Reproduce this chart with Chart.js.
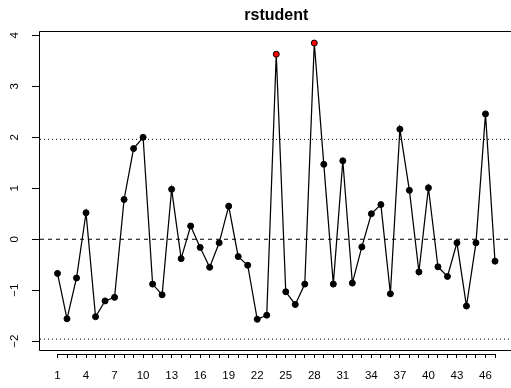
<!DOCTYPE html>
<html><head><meta charset="utf-8">
<style>html,body{margin:0;padding:0;overflow:hidden;background:#fff;}canvas{display:block;}</style>
<script src="https://cdn.jsdelivr.net/npm/chart.js@4.4.1/dist/chart.umd.min.js"></script>
</head><body>
<canvas id="c" width="520" height="388" style="width:520px;height:388px"></canvas>
<script>
// ---- data ----
const obs = [1,2,3,4,5,6,7,8,9,10,11,12,13,14,15,16,17,18,19,20,21,22,23,24,25,26,27,28,29,30,31,32,33,34,35,36,37,38,39,40,41,42,43,44,45,46,47];
const rstudent = [-0.67,-1.56,-0.76,0.52,-1.52,-1.21,-1.14,0.78,1.78,2.00,-0.88,-1.09,0.98,-0.38,0.26,-0.16,-0.55,-0.07,0.65,-0.34,-0.51,-1.57,-1.49,3.63,-1.03,-1.28,-0.88,3.85,1.47,-0.88,1.54,-0.86,-0.15,0.50,0.68,-1.07,2.16,0.96,-0.64,1.01,-0.54,-0.73,-0.07,-1.31,-0.07,2.46,-0.43];
const highlighted = [24, 28];
const zeroLine = 0;
const bandLines = [-1.96, 1.96];
const yTicks = [-2,-1,0,1,2,3,4];
const xTickLabels = [1,4,7,10,13,16,19,22,25,28,31,34,37,40,43,46];

// ---- axis limits (R style 4% extension) ----
const xLo = Math.min(...obs), xHi = Math.max(...obs);
const xMin = xLo - 0.04*(xHi-xLo), xMax = xHi + 0.04*(xHi-xLo);
const yLo = Math.min(bandLines[0], ...rstudent), yHi = Math.max(...rstudent);
const yMin = yLo - 0.04*(yHi-yLo), yMax = yHi + 0.04*(yHi-yLo);

Chart.defaults.font.family = "'Liberation Sans', Arial, Helvetica, sans-serif";
Chart.defaults.color = '#000';

const framePlugin = {
  id: 'frame',
  afterDraw(chart) {
    const {ctx, chartArea: a, scales} = chart;
    ctx.save();
    ctx.strokeStyle = '#000';
    ctx.lineWidth = 1;
    const l = Math.round(a.left) - 0.5, t = Math.round(a.top) + 0.5, b = Math.round(a.bottom) - 0.5, r = a.right + 3;
    ctx.beginPath();
    ctx.moveTo(r, t); ctx.lineTo(l, t); ctx.lineTo(l, b); ctx.lineTo(r, b);
    ctx.stroke();
    // R style x axis line spanning first..last tick
    const xs = scales.x;
    const ya = Math.round(a.bottom) + 3.5;
    ctx.beginPath();
    ctx.moveTo(xs.getPixelForValue(xLo), ya);
    ctx.lineTo(xs.getPixelForValue(xHi), ya);
    ctx.stroke();
    ctx.restore();
  }
};

const refLine = (y, dash) => ({
  type: 'line',
  data: [{x: xMin, y: y}, {x: xMax, y: y}],
  borderColor: '#000', borderWidth: 1, borderDash: dash,
  pointRadius: 0, fill: false, order: 2
});

new Chart(document.getElementById('c'), {
  type: 'line',
  data: {
    datasets: [
      {
        data: obs.map((x, i) => ({x: x, y: rstudent[i]})),
        borderColor: '#000', borderWidth: 1.25, tension: 0, fill: false,
        pointRadius: 3, pointBorderWidth: 1, pointBorderColor: '#000',
        pointBackgroundColor: obs.map(x => highlighted.includes(x) ? '#FF0000' : '#000'),
        order: 0
      },
      refLine(zeroLine, [4, 4]),
      refLine(bandLines[0], [1, 3]),
      refLine(bandLines[1], [1, 3])
    ]
  },
  options: {
    responsive: false, animation: false, devicePixelRatio: 1,
    layout: {padding: {left: 0, right: 7.5, top: 0, bottom: 0}},
    plugins: {
      legend: {display: false}, tooltip: {enabled: false},
      title: {display: true, text: 'rstudent', fullSize: false, color: '#000',
        font: {size: 16, weight: 'bold'}, padding: {top: 6, bottom: 6}}
    },
    scales: {
      x: {
        type: 'linear', position: 'bottom', min: xMin, max: xMax, bounds: 'data',
        afterBuildTicks: s => { s.ticks = obs.map(v => ({value: v})); },
        afterFit: s => { s.height = 37; },
        ticks: {autoSkip: false, maxRotation: 0, minRotation: 0, padding: 11,
          font: {size: 11.5}, color: '#000',
          callback: v => xTickLabels.includes(v) ? String(v) : ''},
        grid: {display: true, drawOnChartArea: false, drawTicks: true, tickLength: 7,
          color: '#000', lineWidth: 1, tickBorderDash: [0, 3, 20]},
        border: {display: false}
      },
      y: {
        type: 'linear', position: 'left', min: yMin, max: yMax, bounds: 'data',
        afterBuildTicks: s => { s.ticks = yTicks.map(v => ({value: v})); },
        afterFit: s => { s.width = 40; },
        ticks: {minRotation: 90, maxRotation: 90, crossAlign: 'center', padding: 11,
          font: {size: 11.5}, color: '#000',
          callback: v => String(v).replace('-', '\u2212')},
        grid: {display: true, drawOnChartArea: false, drawTicks: true, tickLength: 8,
          color: '#000', lineWidth: 1},
        border: {display: false}
      }
    }
  },
  plugins: [framePlugin]
});
</script>
</body></html>
